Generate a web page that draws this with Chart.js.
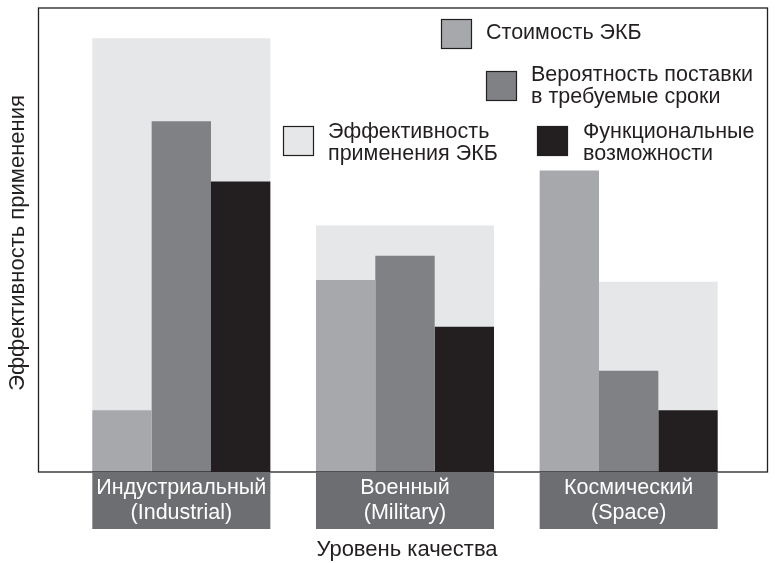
<!DOCTYPE html>
<html>
    <head>
        <title>Уровень качества ЭКБ</title>
        <meta charset="UTF-8">
        <style>
            html, body { margin: 0; padding: 0; background: #ffffff; }
            #qualityChart { display: block; }
        </style>
    </head>
    <body>
        <div style="width:775px;height:563px;">
            <canvas id="qualityChart" width="775" height="563"></canvas>
        </div>
        <script src="https://cdn.jsdelivr.net/npm/chart.js/dist/chart.umd.min.js"></script>
        <script>
          // categories (two lines each)
          const levels = [['Индустриальный', '(Industrial)'], ['Военный', '(Military)'], ['Космический', '(Space)']];

          // series values (0..100 = bottom..top of frame)
          const efficiency = [93.5, 53.1, 41.0];  // Эффективность применения ЭКБ (background)
          const cost = [13.3, 41.4, 65.0];        // Стоимость ЭКБ
          const delivery = [75.6, 46.6, 21.8];    // Вероятность поставки в требуемые сроки
          const functional = [62.6, 31.3, 13.3];  // Функциональные возможности

          const legendLabels = {
            cost: ['Стоимость ЭКБ'],
            delivery: ['Вероятность поставки', 'в требуемые сроки'],
            efficiency: ['Эффективность', 'применения ЭКБ'],
            functional: ['Функциональные', 'возможности']
          };
          const yTitle = 'Эффективность применения';
          const xTitle = 'Уровень качества';

          const FONT = '"Liberation Sans", Arial, sans-serif';
          const INK = '#231f20';
          const colors = { efficiency: '#e6e7e8', cost: '#a7a8ab', delivery: '#808184', functional: '#231f20' };

          //****************************** frame, labels, legend ******************************//
          const decorations = {
            id: 'decorations',
            afterDatasetsDraw(chart) {
              const ctx = chart.ctx;
              const area = chart.chartArea;
              const x = chart.scales.x;
              const groupW = x.width / levels.length * 0.796;

              // frame
              ctx.save();
              ctx.strokeStyle = INK;
              ctx.lineWidth = 1.3;
              ctx.strokeRect(38.5, area.top, 729, area.bottom - area.top);

              // category boxes under the axis
              ctx.font = '21.5px ' + FONT;
              ctx.textAlign = 'center';
              ctx.textBaseline = 'middle';
              levels.forEach((lines, i) => {
                const cx = x.getPixelForValue(i);
                ctx.fillStyle = '#6d6e71';
                ctx.fillRect(cx - groupW / 2, area.bottom + 1, groupW, 56);
                ctx.fillStyle = '#ffffff';
                lines.forEach((t, j) => ctx.fillText(t, cx, area.bottom + 16 + j * 25));
              });

              // axis titles
              ctx.font = '22px ' + FONT;
              ctx.fillStyle = INK;
              ctx.fillText(xTitle, 407, 550);
              ctx.save();
              ctx.translate(18, 243);
              ctx.rotate(-Math.PI / 2);
              ctx.fillText(yTitle, 0, 0);
              ctx.restore();

              // legend
              ctx.font = '21.5px ' + FONT;
              const entry = (key, bx, by, tx, ty) => {
                ctx.fillStyle = colors[key];
                ctx.fillRect(bx, by, 30, 29);
                ctx.strokeStyle = INK;
                ctx.lineWidth = 1.2;
                ctx.strokeRect(bx + 0.5, by + 0.5, 30, 29);
                ctx.fillStyle = INK;
                ctx.textAlign = 'left';
                legendLabels[key].forEach((t, j) => ctx.fillText(t, tx, ty + j * 22));
              };
              entry('cost', 441, 19, 486, 33);
              entry('delivery', 486, 71, 531, 75);
              entry('efficiency', 283, 126, 328, 132);
              entry('functional', 537, 126, 583, 132);
              ctx.restore();
            }
          };

          //****************************** chart ******************************//
          const CHART = document.getElementById('qualityChart');
          const labels = levels.map(l => l[0]);
          const barStyle = { categoryPercentage: 0.796, barPercentage: 1, borderWidth: 0, order: 1 };

          new Chart(CHART, {
            type: 'bar',
            data: {
              labels: labels,
              datasets: [
                { label: legendLabels.cost.join(' '), data: cost, backgroundColor: colors.cost, ...barStyle },
                { label: legendLabels.delivery.join(' '), data: delivery, backgroundColor: colors.delivery, ...barStyle },
                { label: legendLabels.functional.join(' '), data: functional, backgroundColor: colors.functional, ...barStyle },
                // the wide light bar behind each group
                { label: legendLabels.efficiency.join(' '), data: efficiency, backgroundColor: colors.efficiency,
                  categoryPercentage: 0.796, barPercentage: 1, borderWidth: 0, grouped: false, order: 2 }
              ]
            },
            options: {
              responsive: false,
              animation: false,
              layout: { padding: { left: 69.5, right: 34.5, top: 8, bottom: 91 } },
              plugins: { legend: { display: false }, tooltip: { enabled: false } },
              scales: {
                x: { display: false, offset: true },
                y: { display: false, min: 0, max: 100 }
              }
            },
            plugins: [decorations]
          });
        </script>
    </body>
</html>
